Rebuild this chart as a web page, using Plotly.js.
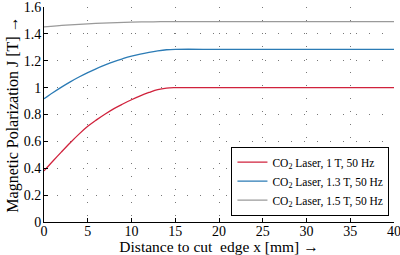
<!DOCTYPE html>
<html><head><meta charset="utf-8">
<script src="https://cdn.plot.ly/plotly-3.0.1.min.js"></script>
<style>html,body{margin:0;padding:0;background:#fff}#chart{width:400px;height:255px}</style>
</head><body><div id="chart"></div>
<script>
const xRed = [0,1,2,3,4,5,6,7,8,9,10,11,12,13,14,15,20,25,30,35,40];
const yRed = [0.38,0.452,0.522,0.590,0.654,0.712,0.760,0.804,0.844,0.878,0.910,0.939,0.964,0.986,0.997,1.0,1.0,1.0,1.0,1.0,1.0];
const xBlue = [0,1,2,3,4,5,6,7,8,9,10,11,12,13,14,15,20,25,30,35,40];
const yBlue = [0.917,0.962,1.004,1.043,1.079,1.112,1.142,1.169,1.194,1.215,1.234,1.25,1.263,1.274,1.282,1.285,1.285,1.285,1.285,1.285,1.285];
const xGray = [0,2.5,5,7.5,10,12.5,15,20,25,30,35,40];
const yGray = [1.452,1.465,1.475,1.482,1.487,1.49,1.491,1.491,1.491,1.491,1.491,1.491];
const xTicks = [0,5,10,15,20,25,30,35,40];
const yTicks = [0,0.2,0.4,0.6,0.8,1,1.2,1.4,1.6];
const yTickText = ['0','0.2','0.4','0.6','0.8','1','1.2','1.4','1.6'];
const names = ["CO<sub>2</sub> Laser, 1 T, 50 Hz","CO<sub>2</sub> Laser, 1.3 T, 50 Hz","CO<sub>2</sub> Laser, 1.5 T, 50 Hz"];
const colors = ["#d0223c","#2b7bb5","#9a9a9a"];
const xs=[xRed,xBlue,xGray], ys=[yRed,yBlue,yGray];
const data = xs.map((x,i)=>({x:x,y:ys[i],type:'scatter',mode:'lines',name:names[i],line:{color:colors[i],width:1.3,shape:'spline',smoothing:1}}));
const font = {family:'Liberation Serif, serif', color:'#000'};
const f = s => Object.assign({size:s}, font);
const grid = {showgrid:true, gridcolor:'#777', griddash:'1px,12px', gridwidth:1, zeroline:false,
  showline:true, linecolor:'#000', linewidth:1, ticks:'inside', ticklen:4, tickcolor:'#000', mirror:false,
  tickfont:f(14), ticklabeloverflow:'allow', automargin:false};
const layout = {
  width:400, height:255, margin:{l:44,r:6,t:7,b:33}, paper_bgcolor:'#fff', plot_bgcolor:'#fff',
  font:font, showlegend:true,
  xaxis:Object.assign({}, grid, {range:[0,40], tickvals:xTicks, ticklabelstandoff:-4,
    title:{text:'Distance to cut\u00a0 edge x [mm] \u2192', font:f(15.5), standoff:2}}),
  yaxis:Object.assign({}, grid, {range:[0,1.6], tickvals:yTicks, ticktext:yTickText, ticklabelstandoff:-1,
    title:{text:'Magnetic Polarization J [T] \u2192', font:f(16), standoff:1}}),
  legend:{x:0.987, y:0.03, xanchor:'right', yanchor:'bottom', bgcolor:'#fff', bordercolor:'#000', borderwidth:1,
    font:f(11.5), tracegroupgap:0, itemwidth:18}
};
Plotly.newPlot('chart', data, layout, {displayModeBar:false, staticPlot:true});
</script></body></html>
